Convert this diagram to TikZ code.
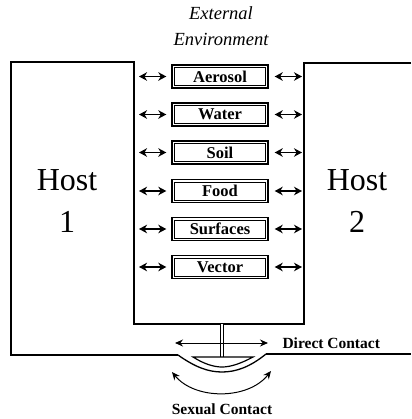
\documentclass[tikz,border=0pt]{standalone}
\usepackage{fontspec}
\setmainfont{Liberation Serif}
\usetikzlibrary{arrows.meta}
\begin{document}
\begin{tikzpicture}[x=1pt,y=-1pt,
  wall/.style={line width=1.3pt},
  envbox/.style={draw, line width=1.4pt, minimum width=96pt, minimum height=23pt, inner sep=0pt,
    font=\bfseries\fontsize{16.5}{18}\selectfont,
    path picture={\draw[line width=0.6pt] ([shift={(2.6pt,-2.6pt)}]path picture bounding box.north west) rectangle ([shift={(-2.6pt,2.6pt)}]path picture bounding box.south east);}},
  flow/.style={{Stealth[length=8pt,width=8.5pt,inset=2.5pt]}-{Stealth[length=8pt,width=8.5pt,inset=2.5pt]}, line width=1.6pt},
  thinflow/.style={{Stealth[length=8pt,width=7pt]}-{Stealth[length=8pt,width=7pt]}, line width=1pt},
  hostlabel/.style={align=center, font=\fontsize{32}{42}\selectfont},
  caption/.style={font=\bfseries\fontsize{15.5}{17}\selectfont}
]
\useasboundingbox (0,0) rectangle (411,419);
% outline
\draw[wall] (411,63) -- (304,63) -- (304,324) -- (134,324) -- (134,62) -- (11,62) -- (11,355) -- (178,355);
\draw[wall] (266,354) -- (411,354);
\draw[wall] (178,355) .. controls (195,367) and (208,372) .. (222,372) .. controls (236,372) and (250,367) .. (266,354);
\coordinate (wl) at (134,0);
\coordinate (wr) at (304,0);
% title
\node[align=center, font=\itshape\fontsize{18.5}{26}\selectfont] (env) at (221,26) {External\\Environment};
% hosts
\node[hostlabel] (h1) at (67,201) {Host\\1};
\node[hostlabel] (h2) at (357,201) {Host\\2};
% boxes
\node[envbox] (b1) at (220,76.5) {Aerosol};
\node[envbox] (b2) at (220,114.5) {Water};
\node[envbox] (b3) at (220,152.5) {Soil};
\node[envbox] (b4) at (220,191) {Food};
\node[envbox] (b5) at (220,229) {Surfaces};
\node[envbox] (b6) at (220,267) {Vector};
\foreach \b in {b1,b2,b3,b4,b5,b6}{
  \draw[flow, shorten <=5pt, shorten >=5pt] (wl |- \b.west) -- (\b.west);
  \draw[flow, shorten <=6pt, shorten >=2pt] (\b.east) -- (wr |- \b.east);
}
% direct contact
\coordinate (dtop) at (222,324);
\coordinate (dbot) at (222,357);
\draw[double, double distance=2pt, line width=0.8pt] (dtop) -- (dbot);
\draw[line width=1.2pt] (193,357) -- (253,357) .. controls (240,364) and (230,367) .. (222,367) .. controls (214,367) and (204,364) .. (193,357) -- cycle;
\coordinate (dl) at (175,343);
\coordinate (dr) at (268,343);
\draw[thinflow] (dl) -- (dr);
\node[caption, anchor=west] (dc) at (279,343) {Direct Contact};
% sexual contact
\coordinate (sl) at (172,372);
\coordinate (sr) at (271,371);
\draw[thinflow] (sl) .. controls (195,400) and (248,400) .. (sr);
\node[caption] (sc) at (222,409) {Sexual Contact};
\end{tikzpicture}
\end{document}
